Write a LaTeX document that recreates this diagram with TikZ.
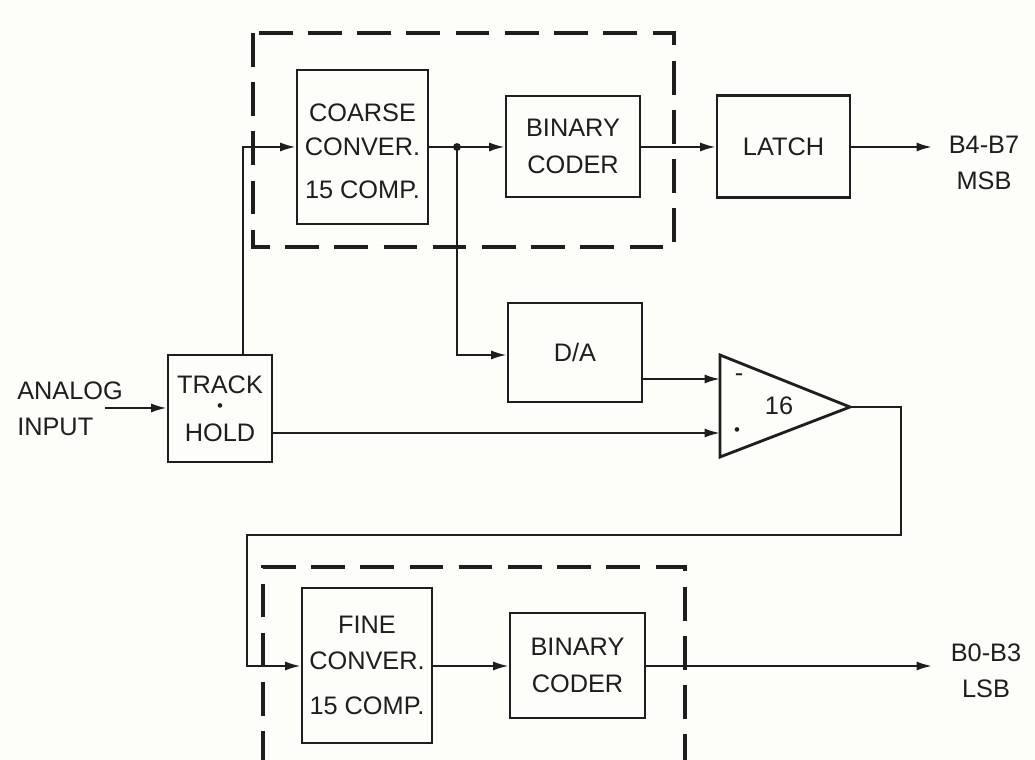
\documentclass[tikz,border=0pt]{standalone}
\usepackage{fontspec}
\setmainfont{Liberation Sans}
\usetikzlibrary{arrows.meta,calc}
\definecolor{ink}{HTML}{1E1E1E}
\definecolor{paper}{HTML}{FDFDF9}
\begin{document}
\begin{tikzpicture}[x=0.025cm,y=-0.025cm,
  every node/.style={text=ink,font=\fontsize{18}{26}\selectfont,inner sep=0pt},
  blk/.style={draw=ink,line width=2pt,align=center},
  wire/.style={draw=ink,line width=1.5pt},
  arr/.style={wire,-{Latex[length=11pt,width=6.5pt]}},
  frame/.style={draw=ink,line width=2.5pt,dash pattern=on 24pt off 11pt},
  lbl/.style={align=center}]
\fill[paper] (0,0) rectangle (1035,760);
\useasboundingbox (0,0) rectangle (1035,760);

% dashed frames
\draw[frame] (253,33) rectangle (674,247);
\draw[frame] (263,765) -- (263,567) -- (685,567) -- (685,765);

% blocks
\node[blk,minimum width=3.275cm,minimum height=3.85cm] (coarse) at (362.5,147) {};
\node[lbl] (coarsetxt) at (362.5,151) {COARSE\\[-1.5pt]CONVER.\\[4pt]15 COMP.};
\node[blk,minimum width=3.35cm,minimum height=2.525cm] (bin1) at (573,146.5) {BINARY\\CODER};
\node[blk,minimum width=3.325cm,minimum height=2.55cm] (latch) at (783.5,146.5) {LATCH};
\node[blk,minimum width=2.6cm,minimum height=2.675cm] (track) at (220,408.5) {\raisebox{-4pt}{TRACK}\\[-9pt]{\fontsize{12}{12}\selectfont\textbullet}\\[-5pt]HOLD};
\node[blk,minimum width=3.35cm,minimum height=2.475cm] (da) at (575,352.5) {D/A};
\node[blk,minimum width=3.25cm,minimum height=3.875cm] (fine) at (367,665.5) {FINE\\CONVER.\\[6pt]15 COMP.};
\node[blk,minimum width=3.375cm,minimum height=2.625cm] (bin2) at (577.5,665.5) {BINARY\\CODER};

% amplifier
\coordinate (ampA) at (720,355);
\coordinate (ampB) at (720,457);
\coordinate (ampout) at (850,407);
\coordinate (ampm) at (720,379);
\coordinate (ampp) at (720,433);
\draw[ink,line width=2pt,line join=miter] (ampA) -- (ampout) -- (ampB) -- cycle;
\node (g) at (779,406) {16};
\node (minus) at (739,378) {-};
\node (plus) at (737,432) {\fontsize{12}{12}\selectfont\textbullet};

% text labels
\node[lbl,align=left,anchor=west] (ain) at (17,409) {ANALOG\\INPUT};
\coordinate (ainend) at (105,408);
\node[lbl] (msb) at (984,163) {B4-B7\\MSB};
\coordinate (msbend) at (932,147);
\node[lbl] (lsb) at (986,671) {B0-B3\\LSB};
\coordinate (lsbend) at (932,666);

% junction
\coordinate (j) at (457,147);
\fill[ink] (j) circle (2.8pt);

% connectors
\draw[arr] (ainend) -- (track.west |- ainend);
\draw[arr] (track.north -| 243,0) -- (243,147) -- (coarse.west |- 0,147);
\draw[arr] (coarse.east |- j) -- (bin1.west |- j);
\draw[arr] (j) -- (457,355) -- (da.west |- 0,355);
\draw[arr] (bin1.east |- 0,147) -- (latch.west |- 0,147);
\draw[arr] (latch.east |- msbend) -- (msbend);
\draw[arr] (da.east |- ampm) -- (ampm);
\draw[arr] (track.east |- ampp) -- (ampp);
\draw[arr] (ampout) -- (901,407) -- (901,535) -- (247,535) -- (247,666) -- (fine.west |- 0,666);
\draw[arr] (fine.east |- 0,666) -- (bin2.west |- 0,666);
\draw[arr] (bin2.east |- lsbend) -- (lsbend);
\end{tikzpicture}
\end{document}
